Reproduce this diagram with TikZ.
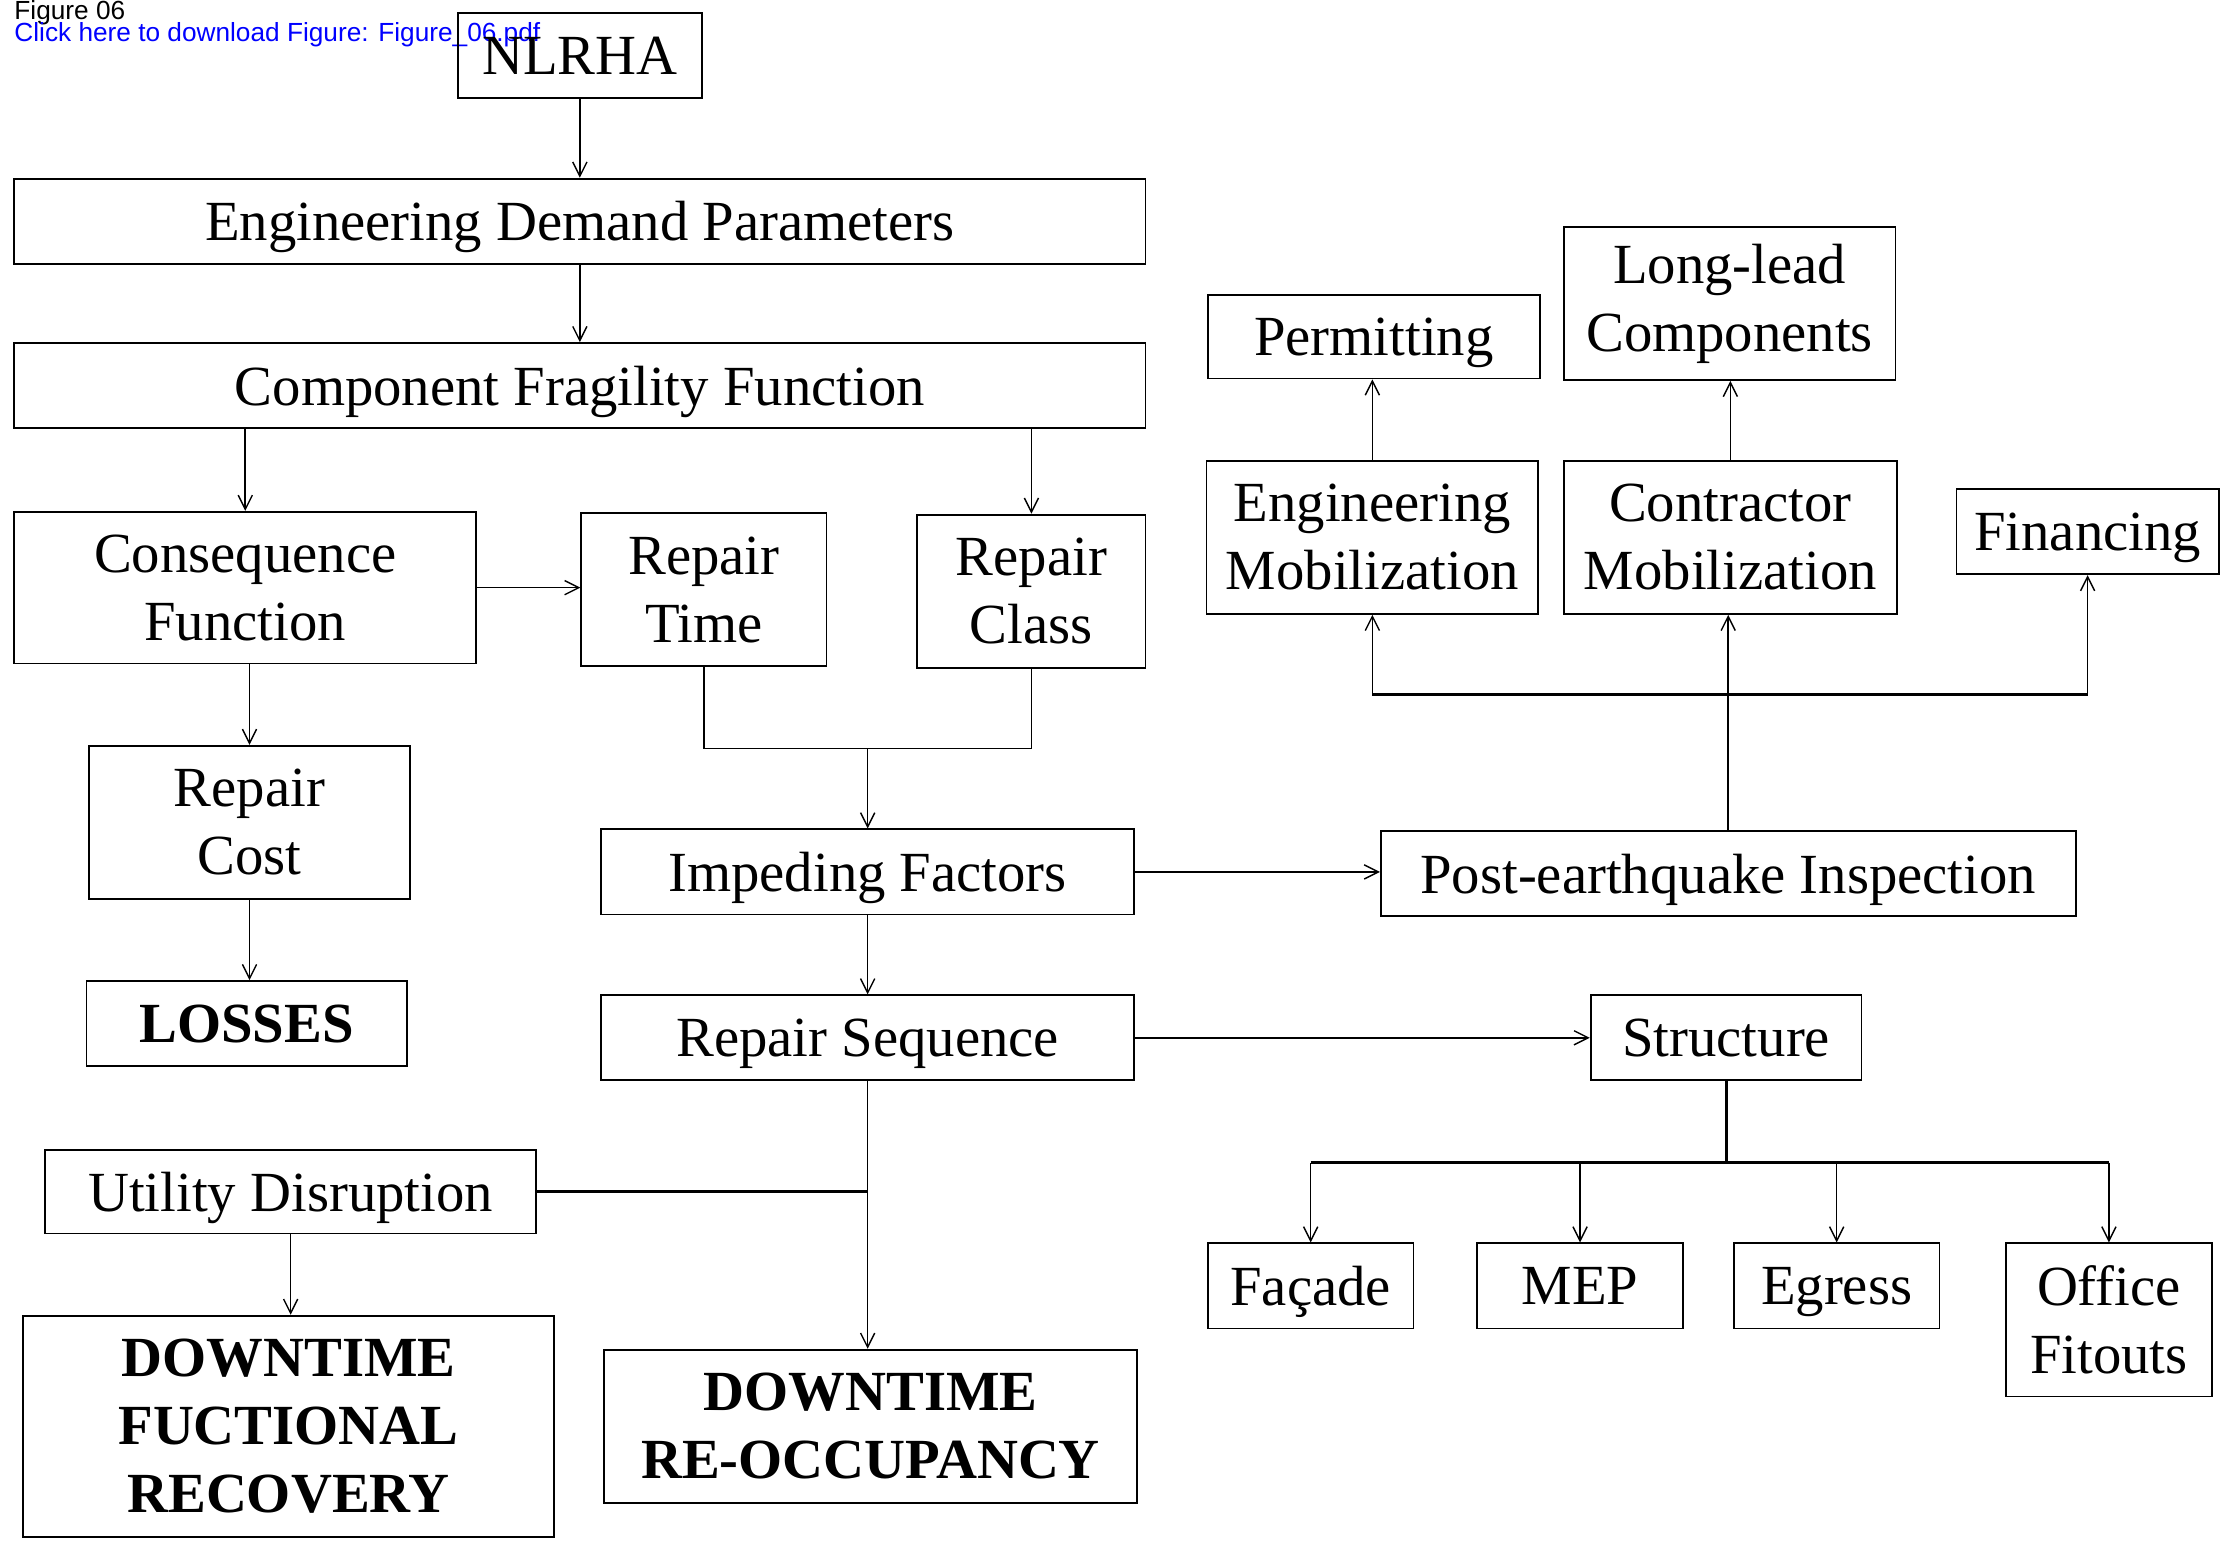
\documentclass[tikz,border=0pt]{standalone}
\usepackage{fontspec}
\setmainfont{Liberation Serif}
\newfontfamily\hdrfont{Liberation Sans}
\usetikzlibrary{arrows.meta}
\definecolor{linkblue}{RGB}{0,0,255}
\tikzset{
  bx/.style={draw, line width=1.3pt, inner sep=0pt, align=center,
    font=\fontsize{40}{48}\selectfont},
  bbx/.style={bx, font=\fontsize{40}{48}\selectfont\bfseries},
  oneline/.style={text depth=0pt},
  arr/.style={line width=1.1pt, -{Straight Barb[length=10pt,width=10pt,line width=1pt]}},
  ln/.style={line width=1.1pt},
  bar/.style={line width=2.2pt}
}
\begin{document}
\begin{tikzpicture}[x=1pt,y=-1pt]
\useasboundingbox (0,0) rectangle (1568,1088);
% header
\node[anchor=base west, inner sep=0pt, font=\hdrfont\fontsize{18.5}{20}\selectfont] (fig) at (10,13.5) {Figure 06};
\node[anchor=base west, inner sep=0pt, text=linkblue, font=\hdrfont\fontsize{18.5}{20}\selectfont] (link) at (10,29.5) {Click here to download Figure: Figure\_06.pdf};
% boxes
\node[bx, oneline, minimum width=172pt, minimum height=60pt] (nl) at (409,39) {NLRHA};
\node[bx, oneline, minimum width=798pt, minimum height=60pt] (edp) at (409,156) {Engineering Demand Parameters};
\node[bx, oneline, minimum width=798pt, minimum height=60pt] (cff) at (409,272) {Component Fragility Function};
\node[bx, minimum width=326pt, minimum height=107pt] (cons) at (173,414.5) {Consequence\\Function};
\node[bx, minimum width=173pt, minimum height=108pt] (rt) at (496.5,416) {Repair\\Time};
\node[bx, minimum width=161pt, minimum height=108pt] (rc) at (727.5,417) {Repair\\Class};
\node[bx, minimum width=226pt, minimum height=108pt] (rcost) at (176,580) {Repair\\Cost};
\node[bbx, oneline, minimum width=226pt, minimum height=60pt] (loss) at (174,722) {LOSSES};
\node[bx, oneline, minimum width=376pt, minimum height=60pt] (imp) at (612,615) {Impeding Factors};
\node[bx, oneline, minimum width=490pt, minimum height=60pt] (pei) at (1219,616) {Post-earthquake Inspection};
\node[bx, oneline, minimum width=376pt, minimum height=60pt] (rs) at (612,732) {Repair Sequence};
\node[bx, oneline, minimum width=191pt, minimum height=60pt] (str) at (1217.5,732) {Structure};
\node[bx, oneline, minimum width=346pt, minimum height=59pt] (ud) at (205,840.5) {Utility Disruption};
\node[bbx, minimum width=375pt, minimum height=156pt] (dfr) at (203.5,1006) {DOWNTIME\\FUCTIONAL\\RECOVERY};
\node[bbx, minimum width=376pt, minimum height=108pt] (dro) at (614,1006) {DOWNTIME\\RE-OCCUPANCY};
\node[bx, oneline, minimum width=145pt, minimum height=60pt] (fac) at (924.5,907) {Façade};
\node[bx, oneline, minimum width=145pt, minimum height=60pt] (mep) at (1114.5,907) {MEP};
\node[bx, oneline, minimum width=145pt, minimum height=60pt] (egr) at (1295.5,907) {Egress};
\node[bx, minimum width=145pt, minimum height=108pt] (off) at (1487.5,931) {Office\\Fitouts};
\node[bx, oneline, minimum width=234pt, minimum height=59pt] (perm) at (969,237.5) {Permitting};
\node[bx, minimum width=234pt, minimum height=108pt] (ll) at (1220,214) {Long-lead\\Components};
\node[bx, minimum width=234pt, minimum height=108pt] (em) at (968,379) {Engineering\\Mobilization};
\node[bx, minimum width=235pt, minimum height=108pt] (cm) at (1220.5,379) {Contractor\\Mobilization};
\node[bx, oneline, minimum width=185pt, minimum height=60pt] (fin) at (1472.5,375) {Financing};
% coordinates for junctions
\coordinate (j) at (612,528);
\coordinate (b) at (0,490);
\coordinate (s) at (0,820);
% connectors
\draw[arr] (nl.south) -- (edp.north);
\draw[arr] (edp.south) -- (cff.north);
\draw[arr] (cons.north |- cff.south) -- (cons.north);
\draw[arr] (rc.north |- cff.south) -- (rc.north);
\draw[arr] (cons.east) -- (cons.east -| rt.west);
\draw[arr] (rcost.north |- cons.south) -- (rcost.north);
\draw[arr] (rcost.south) -- (rcost.south |- loss.north);
\draw[ln] (rt.south) |- (j) -| (rc.south);
\draw[arr] (j) -- (imp.north);
\draw[arr] (imp.east) -- (imp.east -| pei.west);
\draw[arr] (imp.south) -- (rs.north);
\draw[arr] (rs.east) -- (rs.east -| str.west);
\draw[arr] (rs.south) -- (rs.south |- dro.north);
\draw[bar] (ud.east) -- (ud.east -| rs.south);
\draw[arr] (ud.south) -- (ud.south |- dfr.north);
\draw[arr] (pei.north) -- (pei.north |- cm.south);
\draw[bar] (em.south |- b) -- (fin.south |- b);
\draw[arr] (em.south |- b) -- (em.south);
\draw[arr] (fin.south |- b) -- (fin.south);
\draw[arr] (em.north) -- (em.north |- perm.south);
\draw[arr] (cm.north) -- (cm.north |- ll.south);
\draw[bar] (str.south) -- (str.south |- s);
\draw[bar] (fac.north |- s) -- (off.north |- s);
\draw[arr] (fac.north |- s) -- (fac.north);
\draw[arr] (mep.north |- s) -- (mep.north);
\draw[arr] (egr.north |- s) -- (egr.north);
\draw[arr] (off.north |- s) -- (off.north);
\end{tikzpicture}
\end{document}
